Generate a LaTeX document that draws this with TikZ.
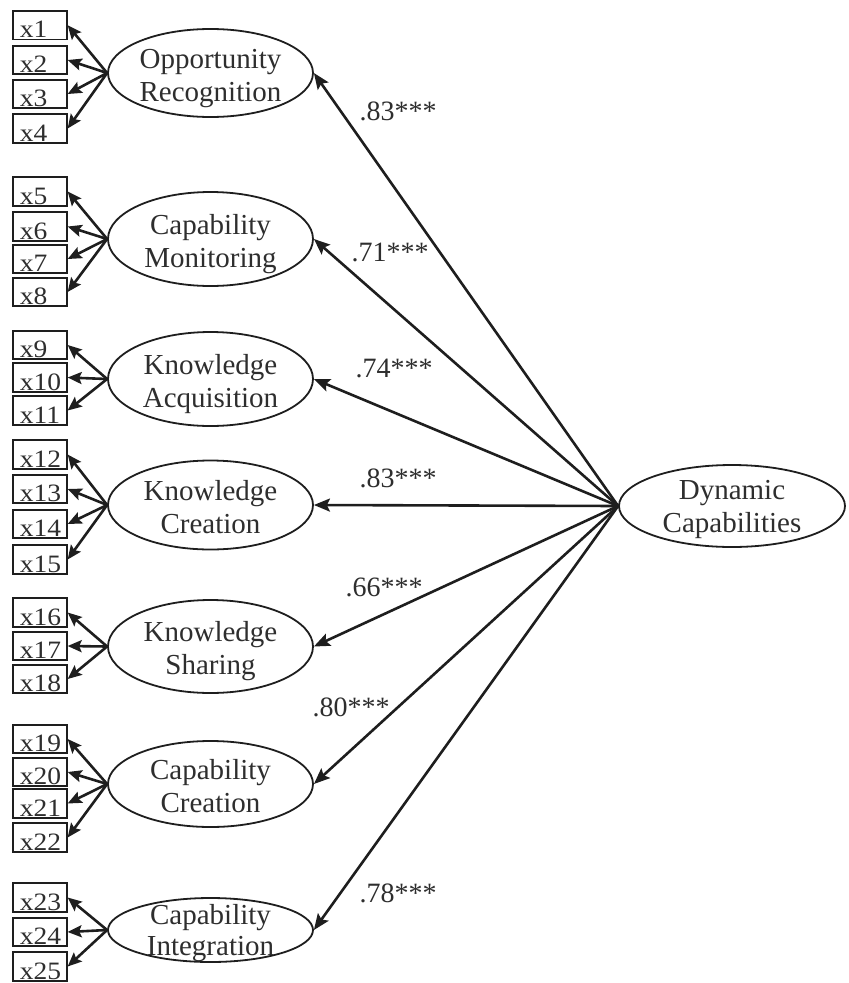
\documentclass[tikz,border=0pt]{standalone}
\usepackage{fontspec}
\setmainfont{Liberation Serif}
\usetikzlibrary{shapes.geometric, arrows.meta}
\definecolor{inkc}{HTML}{1E1E1E}
\definecolor{txtc}{HTML}{2E2E2E}
\begin{document}
\begin{tikzpicture}[x=1pt, y=-1pt,
  latent/.style={ellipse, draw=inkc, line width=1.8pt, minimum width=205pt, inner sep=0pt},
  lvtext/.style={align=center, text=txtc, inner sep=0pt, font=\fontsize{29}{33}\selectfont},
  obsbox/.style={rectangle, draw=inkc, line width=1.9pt, minimum width=54pt, minimum height=28.5pt, inner sep=0pt},
  obstext/.style={anchor=base west, text=txtc, inner sep=0pt, font=\fontsize{25}{28}\selectfont},
  coef/.style={text=txtc, inner sep=0pt, font=\fontsize{28}{32}\selectfont},
  path/.style={draw=inkc, line width=2.6pt, -{Stealth[length=16pt, width=13pt, inset=3pt]}},
  load/.style={draw=inkc, line width=2.6pt, -{Stealth[length=14pt, width=12pt, inset=2.5pt]}}
]
\useasboundingbox (0,0) rectangle (849,983);

% indicator boxes
\foreach \n/\yy in {1/25.2, 2/60, 3/94, 4/128.5,
                    5/191.5, 6/226.5, 7/259, 8/292,
                    9/345, 10/377.5, 11/410.5,
                    12/454.5, 13/489, 14/524, 15/559.5,
                    16/612.5, 17/646, 18/679,
                    19/739, 20/772, 21/803.5, 22/837.5,
                    23/897.5, 24/932, 25/966.5}{
  \node[obsbox] (b\n) at (39.7,\yy) {};
  \node[obstext] at ([xshift=8pt, yshift=2.6pt]b\n.south west) {\scalebox{1.1}[1]{x\n}};
}

% first-order factors
\node[latent, minimum height=88pt] (or) at (210.5,73) {};
\node[latent, minimum height=94pt] (cm) at (210.5,239) {};
\node[latent, minimum height=94pt] (ka) at (210.5,379) {};
\node[latent, minimum height=89pt] (kc) at (210.5,505) {};
\node[latent, minimum height=93pt] (ks) at (210.5,646.5) {};
\node[latent, minimum height=86pt] (cc) at (210.5,784) {};
\node[latent, minimum height=64pt] (ci) at (210.5,930) {};

\node[lvtext, yshift=-5pt] at (or) {\strut Opportunity\\\strut Recognition};
\node[lvtext, yshift=-5pt] at (cm) {\strut Capability\\\strut Monitoring};
\node[lvtext, yshift=-5pt] at (ka) {\strut Knowledge\\\strut Acquisition};
\node[lvtext, yshift=-5pt] at (kc) {\strut Knowledge\\\strut Creation};
\node[lvtext, yshift=-5pt] at (ks) {\strut Knowledge\\\strut Sharing};
\node[lvtext, yshift=-5pt] at (cc) {\strut Capability\\\strut Creation};
\node[lvtext, yshift=-4pt, font=\fontsize{29}{31}\selectfont] at (ci) {\strut Capability\\\strut Integration};

% second-order factor
\node[ellipse, draw=inkc, line width=1.8pt, minimum width=226pt, minimum height=82pt, inner sep=0pt] (dc) at (732,506) {};
\node[lvtext, yshift=-3pt] at (dc) {\strut Dynamic\\\strut Capabilities};

% loadings on indicators
\foreach \n in {1,...,4}   {\draw[load] (or.west) -- (b\n.east);}
\foreach \n in {5,...,8}   {\draw[load] (cm.west) -- (b\n.east);}
\foreach \n in {9,...,11}  {\draw[load] (ka.west) -- (b\n.east);}
\foreach \n in {12,...,15} {\draw[load] (kc.west) -- (b\n.east);}
\foreach \n in {16,...,18} {\draw[load] (ks.west) -- (b\n.east);}
\foreach \n in {19,...,22} {\draw[load] (cc.west) -- (b\n.east);}
\foreach \n in {23,...,25} {\draw[load] (ci.west) -- (b\n.east);}

% second-order paths
\foreach \f in {or,cm,ka,kc,ks,cc,ci} {\draw[path] (dc.west) -- (\f.east);}

% standardized coefficients
\node[coef] (c1) at (398,111) {.83***};
\node[coef] (c2) at (390,252) {.71***};
\node[coef] (c3) at (394,368) {.74***};
\node[coef] (c4) at (398,478) {.83***};
\node[coef] (c5) at (384,587) {.66***};
\node[coef] (c6) at (351,707) {.80***};
\node[coef] (c7) at (398,893) {.78***};
\end{tikzpicture}
\end{document}
